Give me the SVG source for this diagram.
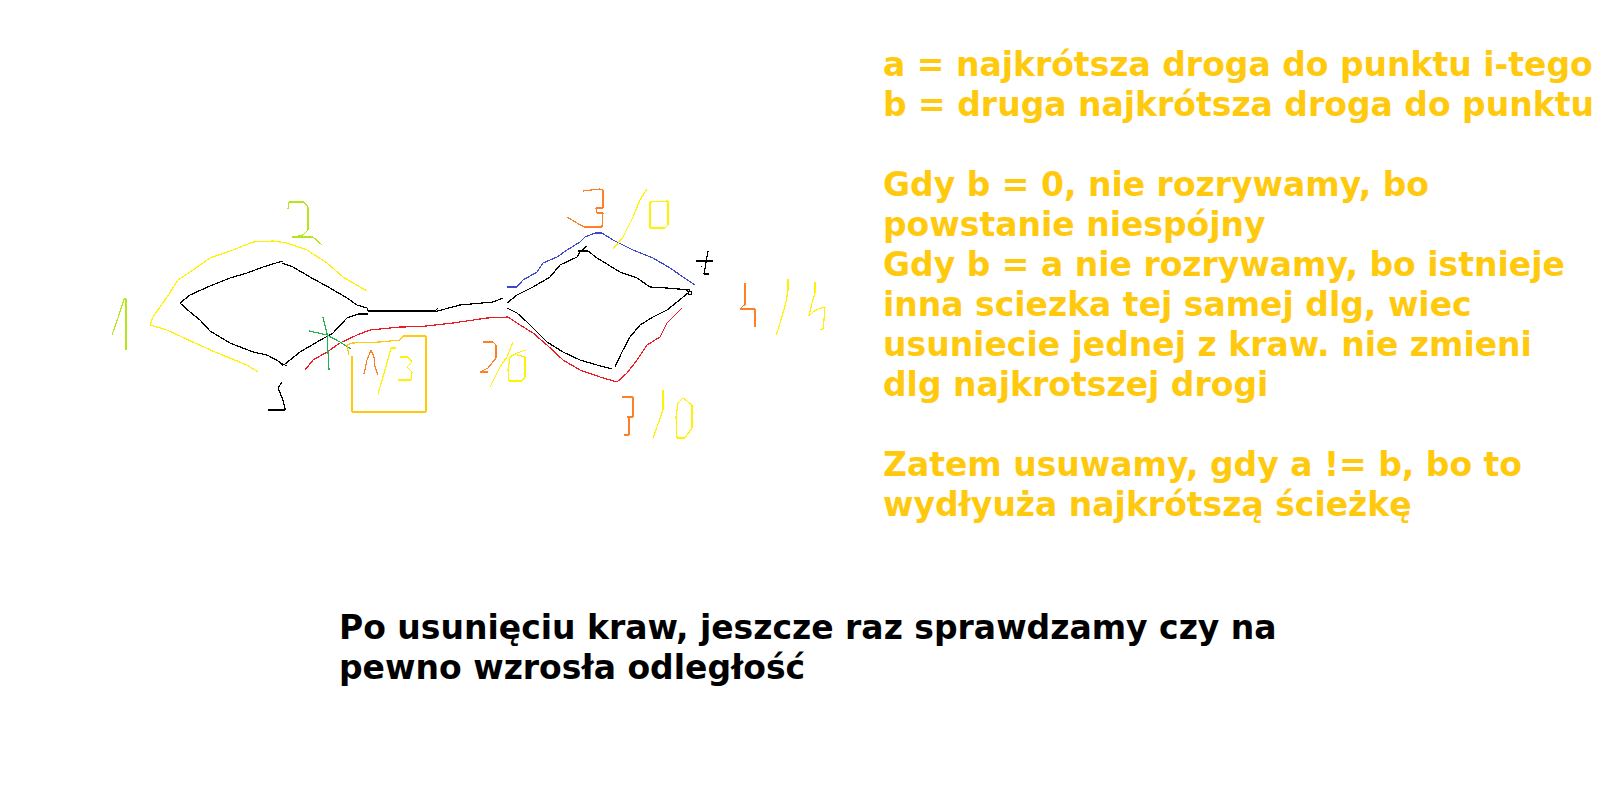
<svg xmlns="http://www.w3.org/2000/svg" width="1602" height="807" viewBox="0 0 1602 807">
<style>
.s{fill:none;stroke-width:1.2;stroke-linejoin:round;stroke-linecap:round;shape-rendering:crispEdges}
.k{stroke:#000}
.lg{stroke:#b5e61d}
.y{stroke:#fff200}
.gd{stroke:#ffc90e}
.o{stroke:#ff7f27}
.r{stroke:#ed1c24}
.b{stroke:#3f48cc}
.g{stroke:#22b14c}
.t{font-family:"DejaVu Sans","Verdana",sans-serif;font-weight:bold;font-size:33px}
.ty{fill:#ffc90e}
.tk{fill:#000}
</style>
<rect width="1602" height="807" fill="#fff"/>

<g id="edges">
<path class="s k" d="M180,303 L190,295 L210,286 L230,278 L247,273 L263,267 L276,263 L283,261"/>
<path class="s k" d="M282,263 L293,267 L310,277 L330,288 L347,298 L357,305 L367,308 L368,311 L435,311 L438,308"/>
<path class="s k" d="M180,303 L190,312 L200,320 L210,331 L230,343 L253,352 L267,355 L280,362"/>
<path class="s k" d="M285,364 L300,352 L317,342 L333,333 L347,318 L358,314 L368,314"/>
<path class="s k" d="M279,361 L283,366 M281,363 L287,366"/>
<path class="s k" d="M420,311.7 L435,311.7 L460,305 L493,302 L503,298"/>
<path class="s k" d="M507,303 L517,295 L533,287 L550,277 L560,265 L577,257 L580,252 L587,246"/>
<path class="s k" d="M578,251 L588,251 L597,258 L620,272 L637,278 L650,287 L667,288 L690,290"/>
<path class="s k" d="M507,308 L517,313 L527,322 L537,332 L547,342 L563,352 L580,360 L597,365 L612,369"/>
<path class="s k" d="M615,367 L622,352 L630,337 L640,325 L653,317 L667,310 L677,302 L688,293"/>
<rect x="688.5" y="291.5" width="3" height="3" fill="none" stroke="#000" stroke-width="1" shape-rendering="crispEdges"/>
<path class="s k" d="M686,290 L689,292"/>
</g>

<g id="outline-yellow">
<path class="s y" d="M258,372 L247,365 L215,352 L195,343 L167,330 L150,325 L153,317 L160,307 L167,297 L178,280 L193,270 L210,258 L233,250 L253,242 L273,241 L287,243 L307,250 L327,263 L343,277 L360,287 L367,291"/>
</g>

<g id="path-red">
<path class="s r" d="M305,370 L313,360 L327,352 L340,343 L357,335 L370,330 L400,327 L420,326.7 L453,323 L487,318 L508,317 L520,325 L533,333 L547,345 L563,360 L580,370 L600,377 L617,382 L627,373 L637,360 L647,345 L660,337 L667,323 L677,313 L682,308"/>
</g>

<g id="path-blue">
<path class="s b" d="M507,287 L517,287 L523,280 L537,272 L543,263 L557,257 L567,250 L580,242 L585,237 L595,233 L602,233 L613,240 L633,250 L653,258 L670,268 L683,277 L695,285"/>
</g>

<g id="cross">
<path class="s g" d="M323,317 L327,333 L329,370"/>
<path class="s g" d="M309,331 L327,335 L340,342 L351,349"/>
</g>

<g id="label-s">
<path class="s k" d="M282,382 L278,388 L283,400 L285,408 L285,410 L268,410"/>
</g>
<g id="label-t">
<path class="s k" d="M696,261 L713,261 M708,251 L704,274 L709,274"/>
<rect x="701" y="266" width="1" height="1" fill="#000"/>
</g>

<g id="label-1">
<path class="s lg" d="M112,335 L118,318 L124,299 L126,299 L126,350"/>
</g>
<g id="label-2">
<path class="s lg" d="M288,209 L289,202 L304,202 L308,207 L308,230 L303,235 L295,237 L292,237 L313,237 L322,245"/>
</g>

<g id="label-1-3">
<path class="s gd" d="M347,345 L352,343 L380,342 L400,340 L403,336 L426,336 L426,412 L352,412 L352,356 M347,345 L349,355"/>
<path class="s o" d="M364,374 L367,360 L371,350 L374,357 L375,367 L378,375"/>
<path class="s y" d="M378,394 L387,363 L391,348 L396,348"/>
<path class="s y" d="M400,357 L408,357 L412,362 L407,367 L412,372 L411,380 L398,380"/>
</g>

<g id="label-3-0-top">
<path class="s o" d="M567,217 L577,223 L584,227 L602,227 L603,213 L597,213 L596,208 L603,208 L603,190 L600,189 L583,191"/>
<path class="s y" d="M613,249 L623,237 L633,217 L640,200 L647,189"/>
<path class="s y" d="M650,202 L668,201 L668,225 L665,228 L650,228 Z"/>
</g>

<g id="label-2-6">
<path class="s o" d="M483,342 L493,342 L496,345 L496,358 L488,368 L480,372 L488,372"/>
<path class="s y" d="M490,387 L500,367 L507,357 L513,342"/>
<path class="s y" d="M526,350 L517,353 L510,357 L508,370 L509,381 L522,381 L525,377 L525,357 L517,355"/>
</g>

<g id="label-3-0-bottom">
<path class="s o" d="M622,397 L633,397 L633,417 L627,417 L629,418 L629,435 L624,435"/>
<path class="s y" d="M663,390 L663,410 L657,427 L653,438"/>
<path class="s y" d="M683,398 L692,405 L692,428 L685,438 L677,438 L676,417 L678,403 Z"/>
</g>

<g id="label-4-4">
<path class="s o" d="M745,283 L745,305 L743,306 L740,309 L755,309 L755,327"/>
<path class="s y" d="M788,279 L788,290 L786,302 L783,313 L780,323 L778,330 L776,335"/>
<path class="s y" d="M815,282 L815,293 L812,303 L809,316 L813,312 L818,309 L825,307 L824,320 L823,329 L820,330"/>
</g>

<g id="notes">
<text class="t ty" x="883" y="76">a = najkrótsza droga do punktu i-tego</text>
<text class="t ty" x="883" y="116">b = druga najkrótsza droga do punktu</text>
<text class="t ty" x="883" y="196">Gdy b = 0, nie rozrywamy, bo</text>
<text class="t ty" x="883" y="236">powstanie niespójny</text>
<text class="t ty" x="883" y="276">Gdy b = a nie rozrywamy, bo istnieje</text>
<text class="t ty" x="883" y="316">inna sciezka tej samej dlg, wiec</text>
<text class="t ty" x="883" y="356">usuniecie jednej z kraw. nie zmieni</text>
<text class="t ty" x="883" y="396">dlg najkrotszej drogi</text>
<text class="t ty" x="883" y="476">Zatem usuwamy, gdy a != b, bo to</text>
<text class="t ty" x="883" y="516">wydłyuża najkrótszą ścieżkę</text>
</g>
<g id="footer">
<text class="t tk" x="339" y="639">Po usunięciu kraw, jeszcze raz sprawdzamy czy na</text>
<text class="t tk" x="339" y="679">pewno wzrosła odległość</text>
</g>
</svg>
